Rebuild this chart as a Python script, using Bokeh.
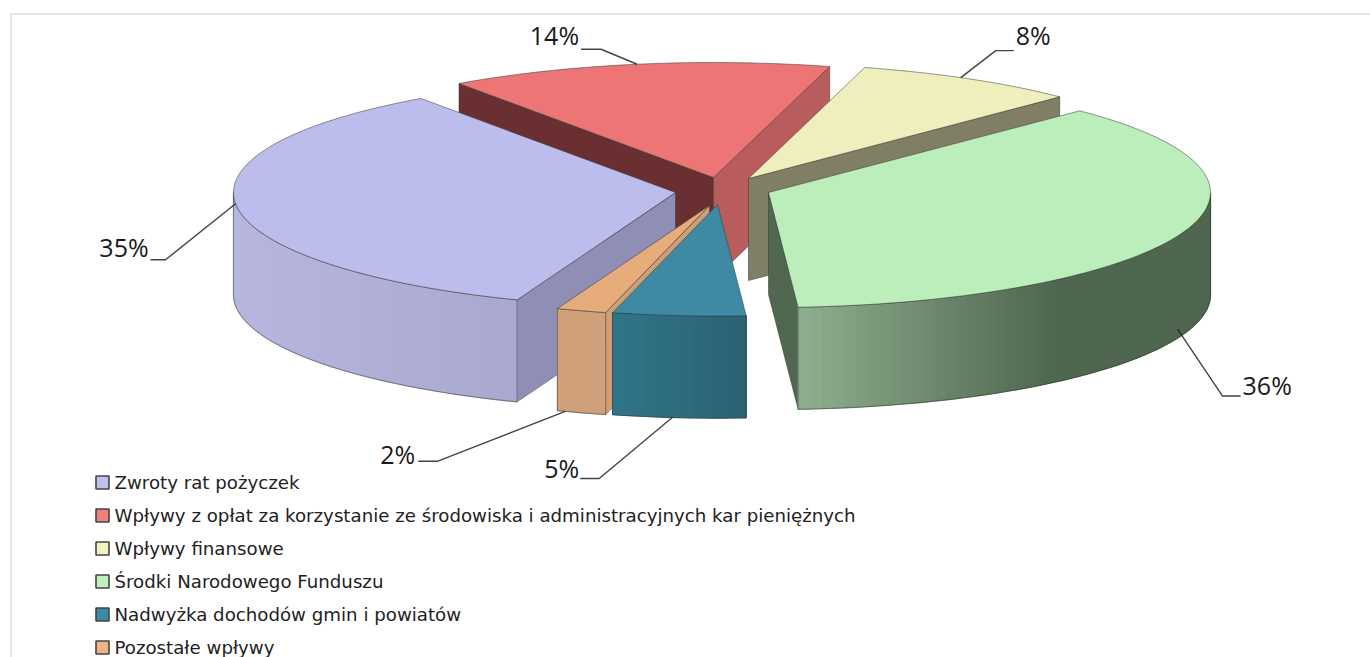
import math
from bokeh.plotting import figure
from bokeh.core.properties import value
from bokeh.embed import file_html
from bokeh.resources import INLINE

# ---------- data ----------
categories = ["Zwroty rat pożyczek",
              "Wpływy z opłat za korzystanie ze środowiska i administracyjnych kar pieniężnych",
              "Wpływy finansowe",
              "Środki Narodowego Funduszu",
              "Nadwyżka dochodów gmin i powiatów",
              "Pozostałe wpływy"]
shares = [34.4, 14.0, 8.2, 36.5, 5.0, 1.9]
share_labels = ["35%", "14%", "8%", "36%", "5%", "2%"]

# ---------- colours ----------
top_colors = ["#bdbded", "#ee7575", "#efeebd", "#bbeebb", "#3f8aa3", "#e6ac7c"]
start_cut = ["#8f8fb6", "#6a2f30", "#807f66", "#50684f", "#2f7488", "#cf9f77"]
end_cut = ["#8f8fb6", "#b95c5e", "#807f66", "#50684f", "#2f7488", "#cf9f77"]
wall_left = ["#b6b6de", "#b95c5e", "#807f66", "#8fae8f", "#2f7689", "#cfa07a"]
wall_right = ["#a9a9d0", "#b95c5e", "#807f66", "#4f664f", "#2c6172", "#cfa07a"]
legend_fill = ["#c0c0ee", "#f08080", "#f2f2c0", "#c0f0c0", "#3f8aa3", "#eeb488"]

# ---------- layout ----------
W, HT = 1370, 657
START = 249.0
RX, RY, H = 442.0, 115.0, 102.0
apex = [(675, 192), (713, 177), (748, 178), (768, 192), (717, 204), (709, 205)]
slice_scale = [1.0, 1.0, 1.0, 1.0, 0.97, 0.96]
draw_order = [1, 2, 0, 3, 5, 4]
anchor_delta = [-1.5, 0.0, 1.3, -1.8, -0.9, -2.3]
anchor_dy = [0, 0, 0, -9, 0, 0]
leader_mid = [(-70, 56), (-36, -15), (35, -27), (45, 67), (-73, 61), (-128, 50)]
leader_end = [-15, -20, 18, 18, -19, -19]
leader_wall = [False, False, False, True, True, True]
label_gap = [-2, -2, 2, 2, -1, -3]
label_dy = [-13, -14, -16, -11, -10, -7]

p = figure(width=W, height=HT, x_range=(0, W), y_range=(HT, 0),
           output_backend="svg", toolbar_location=None, min_border=0,
           outline_line_color=None)
p.axis.visible = False
p.grid.visible = False


def hexrgb(c):
    return [int(c[i:i + 2], 16) for i in (1, 3, 5)]


def lerp(c1, c2, t):
    t = max(0.0, min(1.0, t))
    a, b = hexrgb(c1), hexrgb(c2)
    return "#%02x%02x%02x" % tuple(round(x + (y - x) * t) for x, y in zip(a, b))


def rim(i, ang):
    r = math.radians(ang)
    s = slice_scale[i]
    return apex[i][0] + s * RX * math.cos(r), apex[i][1] - s * RY * math.sin(r)


# frame
p.line([10.5, 10.5, W], [HT, 13.5, 13.5], line_color="#e6e6e6", line_width=2)

# slice angles
angs = []
a = START
for s in shares:
    angs.append((a, a - s * 3.6))
    a -= s * 3.6

xs, ys, fills, lines = [], [], [], []
EDGE = "#3a3a3a"
for i in draw_order:
    a0, a1 = angs[i]
    ax, ay = apex[i]
    for ang, col, normal in ((a0, start_cut[i], a0 + 90), (a1, end_cut[i], a1 - 90)):
        if math.sin(math.radians(normal)) < 0:
            rx_, ry_ = rim(i, ang)
            xs.append([ax, rx_, rx_, ax])
            ys.append([ay, ry_, ry_ + H, ay + H])
            fills.append(col)
            lines.append(EDGE)
    n = max(2, int((a0 - a1) / 1.5))
    pts = [a0 - (a0 - a1) * k / n for k in range(n + 1)]
    vis = [(pts[k], pts[k + 1]) for k in range(n)
           if math.sin(math.radians((pts[k] + pts[k + 1]) / 2)) < 0]
    if vis:
        vx = [rim(i, q)[0] for uv in vis for q in uv]
        x_lo, x_hi = min(vx), max(vx)
        span = 0.62 if i == 3 else 1.0
        for u, v in vis:
            x1, y1 = rim(i, u)
            x2, y2 = rim(i, v)
            t = ((x1 + x2) / 2 - x_lo) / ((x_hi - x_lo) * span)
            c = lerp(wall_left[i], wall_right[i], t)
            xs.append([x1, x2, x2, x1])
            ys.append([y1, y2, y2 + H, y1 + H])
            fills.append(c)
            lines.append(c)
        arc = [q for uv in vis for q in uv]
        ox = [rim(i, q)[0] for q in arc]
        oy = [rim(i, q)[1] for q in arc]
        xs.append(ox + ox[::-1])
        ys.append([y + H for y in oy] + oy[::-1])
        fills.append(None)
        lines.append(EDGE)
    xs.append([ax] + [rim(i, q)[0] for q in pts])
    ys.append([ay] + [rim(i, q)[1] for q in pts])
    fills.append(top_colors[i])
    lines.append(EDGE)

alphas = [0.0 if f is None else 1.0 for f in fills]
widths = [0.7 if l == EDGE else 1.3 for l in lines]
line_alphas = [0.75 if l == EDGE else 1.0 for l in lines]
p.patches(xs, ys, fill_color=[f or "#ffffff" for f in fills], fill_alpha=alphas,
          line_color=lines, line_width=widths, line_alpha=line_alphas)

# leaders and percent labels
FONT = "Open Sans"
for i, lab in enumerate(share_labels):
    mid = (angs[i][0] + angs[i][1]) / 2 + anchor_delta[i]
    x0, y0 = rim(i, mid)
    if leader_wall[i]:
        y0 += H
    y0 += anchor_dy[i]
    ex, ey = x0 + leader_mid[i][0], y0 + leader_mid[i][1]
    fx = ex + leader_end[i]
    p.line([x0, ex, fx], [y0, ey, ey], line_color="#222222", line_width=1.4, line_alpha=0.85)
    p.text([fx + label_gap[i]], [ey + label_dy[i]], text=[lab],
           text_font=value(FONT), text_font_size="25px", text_color="#1a1a1a",
           text_baseline="middle", text_align="right" if leader_end[i] < 0 else "left")

# legend
LEG_TOP, LEG_STEP = 482.0, 33.0
rows = [LEG_TOP + k * LEG_STEP for k in range(len(categories))]
p.scatter([102] * len(rows), rows, marker="square", size=13, fill_color=legend_fill,
          line_color="#444444", line_width=1.6)
p.text([114] * len(rows), rows, text=categories, text_font=value("DejaVu Sans"),
       text_font_size="18.2px", text_color="#222222", text_baseline="middle")

open("out.html", "w").write(file_html(p, INLINE))
